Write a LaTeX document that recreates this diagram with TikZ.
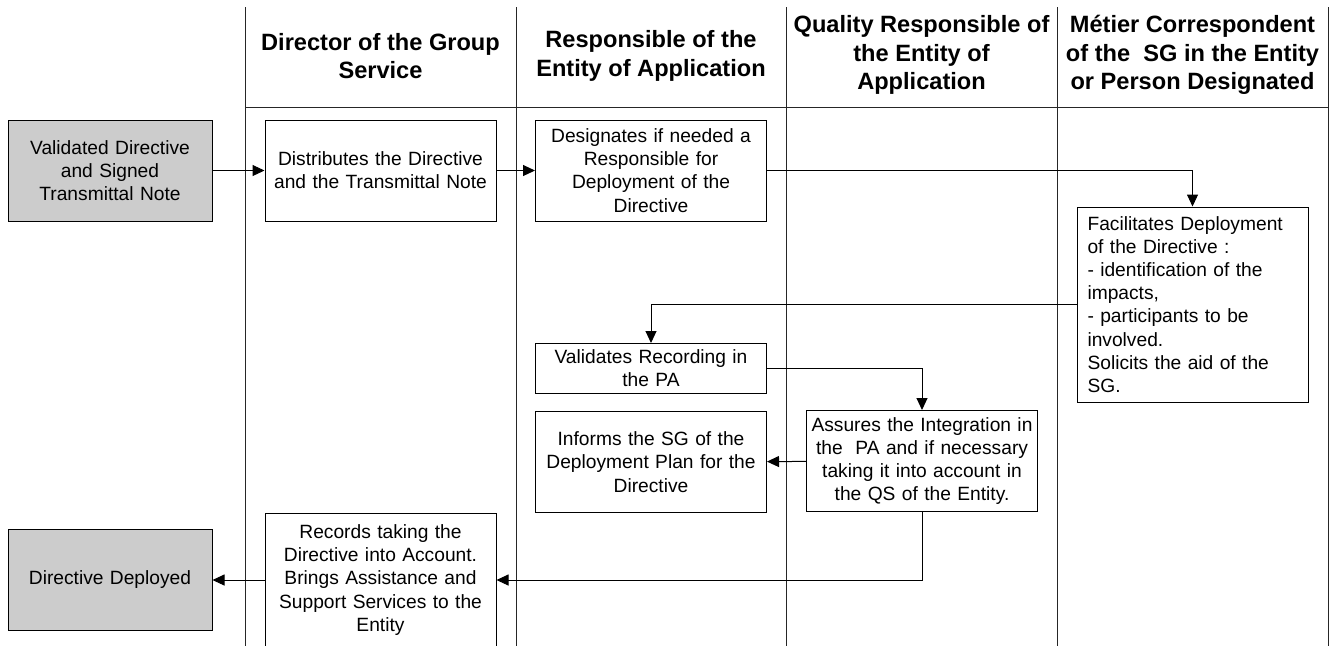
\documentclass[tikz,border=0pt]{standalone}
\usepackage{fontspec}
\setmainfont{Liberation Sans}
\usetikzlibrary{arrows.meta, positioning}

\tikzset{
	lane/.style={draw=black!85, line width=0.5pt},
	head/.style={font=\bfseries\fontsize{11.8}{14.3}\selectfont, align=center},
	task/.style={draw, line width=0.5pt, inner sep=0pt,
		minimum width=115.5pt, minimum height=50.5pt,
		text width=114pt, align=center,
		font=\fontsize{9.6}{11.6}\selectfont},
	ends/.style={task, fill=gray!40, minimum width=102pt, text width=100pt},
	flow/.style={-{Triangle[length=6pt,width=5.5pt]}, line width=0.5pt}
}

\begin{document}
\begin{tikzpicture}[x=0.5pt, y=-0.5pt]
		\useasboundingbox (0,0) rectangle (1336,645);
		\foreach \x in {245,516,786,1057,1328}
		\draw[lane] (\x,7) -- (\x,650);
		\draw[lane] (245,107) -- (1328,107);
		
		\node[head] (hdirector) at (380.5,56) {Director of the Group\\Service};
		\node[head] (hresp) at (651,56) {Responsible of the\\Entity of Application};
		\node[head] (hquality) at (921.5,55) {Quality Responsible of\\the Entity of\\Application};
		\node[head] (hmetier) at (1192.5,55) {Métier Correspondent\\of the~ SG in the Entity\\or Person Designated};
		
		\node[ends] (validated) at (110,170.5) {Validated Directive\\and Signed\\Transmittal Note};
		\node[task] (distribute) at (380.5,170.5) {Distributes the Directive\\and the Transmittal Note};
		\node[task] (designate) at (651,170.5) {Designates if needed a\\Responsible for\\Deployment of the\\Directive};
		\node[task, minimum height=97.5pt, text width=105pt, align=left]
		(facilitate) at (1192.5,304.5) {Facilitates Deployment\\of the Directive :\\- identification of the\\impacts,\\- participants to be\\involved.\\Solicits the aid of the\\SG.};
		\node[task, minimum height=25pt] (validrec) at (651,368.5) {Validates Recording in\\the PA};
		\node[task, below = 8.5pt of validrec] (inform) {Informs the SG of the\\Deployment Plan for the\\Directive};
		\node[task] (assure) at (922,461) {Assures the Integration in\\the~ PA and if necessary\\taking it into account in\\the QS of the Entity.};
		\node[task, minimum height=67pt] (record) at (380.5,580) {Records taking the\\Directive into Account.\\Brings Assistance and\\Support Services to the\\Entity};
		\node[ends] (deployed) at (110,580) {Directive Deployed};
		
		\draw[flow] (validated) -- (distribute);
		\draw[flow] (distribute) -- (designate);
		\draw[flow] (designate.east) -| (facilitate.north);
		\draw[flow] (facilitate.west) -| (validrec.north);
		\draw[flow] (validrec.east) -| (assure.north);
		\draw[flow] (assure) -- (inform);
		\draw[flow] (assure.south) |- (record.east);
		\draw[flow] (record) -- (deployed);
	\end{tikzpicture}
\end{document}
